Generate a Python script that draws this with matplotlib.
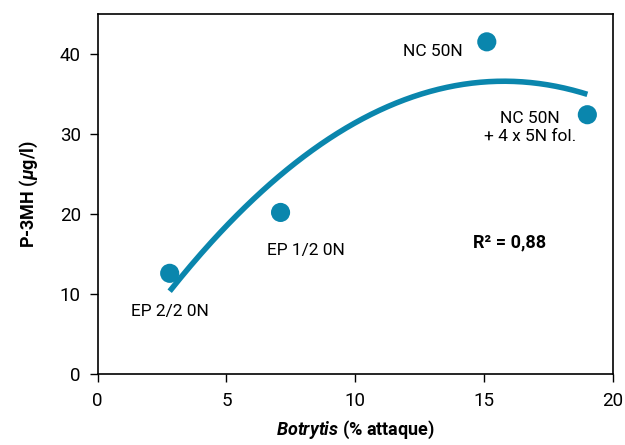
import numpy as np
import matplotlib
matplotlib.use("Agg")
import matplotlib.pyplot as plt

fam = 'Roboto'
plt.rcParams['font.family'] = [fam, 'DejaVu Sans']
plt.rcParams['mathtext.fontset'] = 'custom'
plt.rcParams['mathtext.rm'] = fam
plt.rcParams['mathtext.it'] = fam + ':italic'
plt.rcParams['mathtext.bf'] = fam + ':bold'
plt.rcParams['mathtext.bfit'] = fam + ':italic:bold'

# data
botrytis = [2.8, 7.1, 15.1, 19.0]
p3mh = [12.6, 20.2, 41.5, 32.4]
labels = ["EP 2/2 0N", "EP 1/2 0N", "NC 50N", "NC 50N\n+ 4 x 5N fol."]
label_pos = [(2.8, 7.8), (8.1, 15.5), (13.0, 40.3), (16.77, 30.8)]

blue = "#0a86ad"

fig, ax = plt.subplots(figsize=(6.25, 4.45), dpi=100)
fig.subplots_adjust(left=0.156, right=0.981, top=0.969, bottom=0.159)

# 2nd order trend line
coef = np.polyfit(botrytis, p3mh, 2)
xs = np.linspace(2.8, 19.0, 200)
ax.plot(xs, np.polyval(coef, xs), color=blue, lw=4, solid_capstyle="butt")

ax.scatter(botrytis, p3mh, s=190, color=blue, zorder=3, edgecolors="none")

for lab, (lx, ly) in zip(labels, label_pos):
    ax.text(lx, ly, lab, ha="center", va="center", fontsize=12.5, linespacing=1.25)

ax.text(16.0, 16.5, "R² = 0,88", fontsize=13, fontweight="bold", ha="center", va="center")

ax.set_xlim(0, 20)
ax.set_ylim(0, 45)
ax.set_xticks([0, 5, 10, 15, 20])
ax.set_yticks([0, 10, 20, 30, 40])
ax.tick_params(labelsize=13.5, length=6, width=1)
ax.tick_params(axis="x", pad=7)
ax.tick_params(axis="y", pad=6)
for s in ax.spines.values():
    s.set_linewidth(1.2)

ax.set_xlabel(r"$\mathbfit{Botrytis}$ (% attaque)", fontsize=13, fontweight="bold", labelpad=6)
ax.set_ylabel(r"P-3MH ($\mathbfit{\mu}$g/l)", fontsize=13, fontweight="bold", labelpad=14)

fig.savefig("out.png")
